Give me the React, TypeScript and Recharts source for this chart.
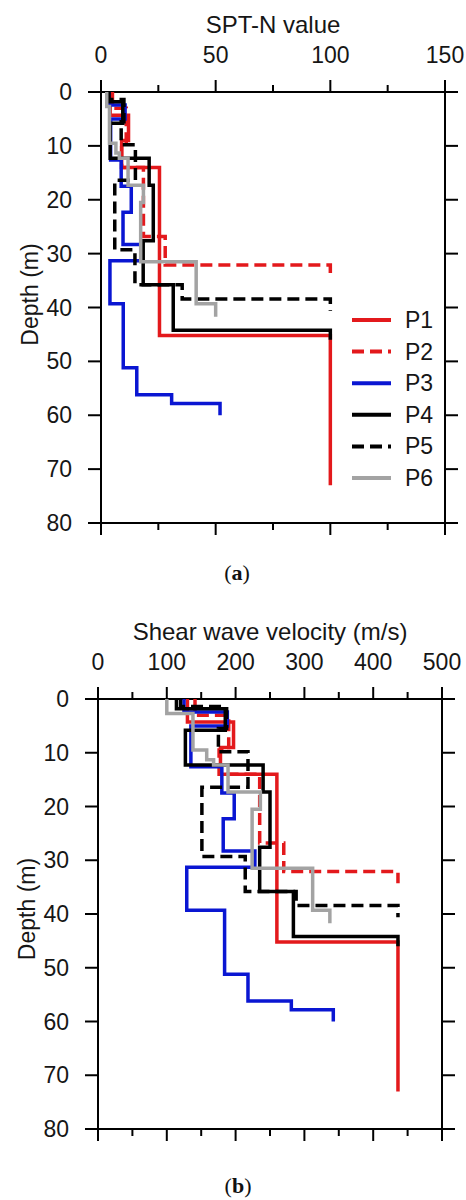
import React from 'react';
import { ScatterChart, Scatter, XAxis, YAxis, Legend } from 'recharts';

// ---- Layer boundaries (depth, m) and layer values ----
const P1_DEPTH = [0, 4.3, 9, 14, 45.2, 73];
const P1_SPT = [4, 12, 9, 25.5, 100];
const P1_VS = [130, 197, 178, 260, 436];

const P2_DEPTH = [0, 3, 9.5, 14, 26.8, 32.1, 34.3];
const P2_SPT = [5, 11, 9, 18.5, 28, 100];
const P2_VS = [141, 190, 176, 235, 270, 436];

const P3_DEPTH = [0, 2.4, 5, 12.6, 17.5, 22.3, 28.3, 31.3, 39.3, 51.2, 56.2, 57.8, 60];
const P3_SPT = [3.5, 10.5, 4.2, 8.8, 13.2, 9.6, 18, 3.9, 9.7, 15.6, 30.8, 51.9];
const P3_VS = [125, 188, 135, 180, 198, 182, 228, 129, 184, 218, 281, 342];

const P4_DEPTH = [0, 1.8, 5.8, 12.3, 17.3, 27.6, 35.8, 44.2, 46];
const P4_SPT = [3, 9.5, 4, 21, 22.8, 18.4, 31.5, 100];
const P4_VS = [114, 185, 127, 240, 250, 235, 284, 436];

const P5_DEPTH = [0, 1.4, 5.5, 9.8, 16.4, 29.3, 35.8, 38.4, 40.6];
const P5_SPT = [3.5, 10, 8.8, 15, 6, 14.8, 35.4, 100];
const P5_VS = [120, 187, 175, 218, 151, 214, 288, 436];

const P6_DEPTH = [0, 2.7, 9.5, 11.3, 12.3, 17.3, 20.5, 31.5, 39.3, 41.7];
const P6_SPT = [2.5, 3.7, 6.5, 8, 11.8, 18.5, 17.3, 41.5, 50];
const P6_VS = [100, 138, 158, 168, 189, 236, 224, 312, 337];

// ---- Axis ticks / labels ----
const SPT_TICKS = [0, 25, 50, 75, 100, 125, 150];
const SPT_MAJOR = [0, 50, 100, 150];
const VS_TICKS = [0, 50, 100, 150, 200, 250, 300, 350, 400, 450, 500];
const VS_MAJOR = [0, 100, 200, 300, 400, 500];
const DEPTH_TICKS = [0, 10, 20, 30, 40, 50, 60, 70, 80];

const SERIES_NAMES = ['P1', 'P2', 'P3', 'P4', 'P5', 'P6'];

const RED = '#e3191c';
const BLUE = '#0a16d2';
const BLACK = '#000000';
const GRAY = '#a3a3a3';
const FONT = '"Liberation Sans", Arial, Helvetica, sans-serif';
const TXT = '#161616';

const steps = (depths: number[], vals: number[]) =>
  vals.flatMap((v, i) => [
    { v, d: depths[i] },
    { v, d: depths[i + 1] },
  ]);

const STYLES = [
  { color: RED, dash: undefined as string | undefined },
  { color: RED, dash: '12 6' },
  { color: BLUE, dash: undefined },
  { color: BLACK, dash: undefined },
  { color: BLACK, dash: '12 6' },
  { color: GRAY, dash: undefined },
];

const SPT_SERIES = [
  steps(P1_DEPTH, P1_SPT),
  steps(P2_DEPTH, P2_SPT),
  steps(P3_DEPTH, P3_SPT),
  steps(P4_DEPTH, P4_SPT),
  steps(P5_DEPTH, P5_SPT),
  steps(P6_DEPTH, P6_SPT),
];
const VS_SERIES = [
  steps(P1_DEPTH, P1_VS),
  steps(P2_DEPTH, P2_VS),
  steps(P3_DEPTH, P3_VS),
  steps(P4_DEPTH, P4_VS),
  steps(P5_DEPTH, P5_VS),
  steps(P6_DEPTH, P6_VS),
];

const EmptyShape = () => <g />;

const makeXTick = (side: 'top' | 'bottom', majors: number[]) => (props: any) => {
  const { x, y, payload } = props;
  const val = payload.value;
  const isMajor = majors.includes(val);
  const len = isMajor ? 12 : 7;
  const dir = side === 'top' ? -1 : 1;
  return (
    <g>
      <line x1={x} y1={y} x2={x} y2={y + dir * len} stroke="#000" strokeWidth={2} />
      {side === 'top' && isMajor ? (
        <text x={x} y={y - 29} textAnchor="middle" fontSize={23} fill={TXT} fontFamily={FONT}>
          {val}
        </text>
      ) : null}
    </g>
  );
};

const makeYTick = (side: 'left' | 'right') => (props: any) => {
  const { x, y, payload } = props;
  const dir = side === 'left' ? -1 : 1;
  return (
    <g>
      <line x1={x} y1={y} x2={x + dir * 13} y2={y} stroke="#000" strokeWidth={2} />
      {side === 'left' ? (
        <text x={x - 29} y={y + 8} textAnchor="end" fontSize={23} fill={TXT} fontFamily={FONT}>
          {payload.value}
        </text>
      ) : null}
    </g>
  );
};

const LegendBox = () => (
  <svg width={110} height={200} style={{ display: 'block' }}>
    {SERIES_NAMES.map((name, i) => {
      const cy = 20 + i * 31.6;
      return (
        <g key={name}>
          <line x1={7} x2={46} y1={cy} y2={cy} stroke={STYLES[i].color} strokeWidth={4} strokeDasharray={STYLES[i].dash} />
          <text x={60} y={cy + 8} fontSize={23} fill={TXT} fontFamily={FONT}>
            {name}
          </text>
        </g>
      );
    })}
  </svg>
);

type PanelProps = {
  top: number;
  title: string;
  xMax: number;
  ticks: number[];
  majors: number[];
  data: { v: number; d: number }[][];
  margin: { top: number; left: number; right: number; bottom: number };
  depthDy: number;
  legend: boolean;
};

function Panel({ top, title, xMax, ticks, majors, data, margin, depthDy, legend }: PanelProps) {
  const axisLine = { stroke: '#000', strokeWidth: 2 };
  return (
    <div style={{ position: 'absolute', left: 0, top, width: 466, height: 560, fontFamily: FONT }}>
      <ScatterChart width={466} height={560} margin={margin}>
        <XAxis
          xAxisId="top"
          orientation="top"
          type="number"
          dataKey="v"
          domain={[0, xMax]}
          ticks={ticks}
          interval={0}
          allowDataOverflow
          height={1}
          tickSize={0}
          tickMargin={0}
          tickLine={false}
          tick={makeXTick('top', majors)}
          axisLine={axisLine}
          label={{ value: title, position: 'top', offset: 58, fontSize: 24, fill: TXT }}
        />
        <XAxis
          xAxisId="bottom"
          orientation="bottom"
          type="number"
          dataKey="v"
          domain={[0, xMax]}
          ticks={ticks}
          interval={0}
          allowDataOverflow
          height={1}
          tickSize={0}
          tickMargin={0}
          tickLine={false}
          tick={makeXTick('bottom', majors)}
          axisLine={axisLine}
        />
        <YAxis
          yAxisId="left"
          orientation="left"
          type="number"
          dataKey="d"
          domain={[0, 80]}
          reversed
          ticks={DEPTH_TICKS}
          interval={0}
          allowDataOverflow
          width={1}
          tickSize={0}
          tickMargin={0}
          tickLine={false}
          tick={makeYTick('left')}
          axisLine={axisLine}
          label={{ value: 'Depth (m)', angle: -90, position: 'center', dx: -71, dy: depthDy, fontSize: 23, fill: TXT }}
        />
        <YAxis
          yAxisId="right"
          orientation="right"
          type="number"
          dataKey="d"
          domain={[0, 80]}
          reversed
          ticks={DEPTH_TICKS}
          interval={0}
          allowDataOverflow
          width={1}
          tickSize={0}
          tickMargin={0}
          tickLine={false}
          tick={makeYTick('right')}
          axisLine={axisLine}
        />
        {data.map((pts, i) => (
          <Scatter
            key={SERIES_NAMES[i]}
            name={SERIES_NAMES[i]}
            data={pts}
            xAxisId="top"
            yAxisId="left"
            fill={STYLES[i].color}
            line={{ stroke: STYLES[i].color, strokeWidth: 3.5, strokeDasharray: STYLES[i].dash }}
            lineType="joint"
            shape={EmptyShape}
            legendType="none"
            isAnimationActive={false}
          />
        ))}
        {legend ? (
          <Legend
            layout="vertical"
            align="center"
            verticalAlign="middle"
            content={() => <LegendBox />}
            wrapperStyle={{ left: 345, top: 300, width: 110, height: 200 }}
          />
        ) : null}
      </ScatterChart>
    </div>
  );
}

export default function App() {
  return (
    <div style={{ position: 'absolute', left: 0, top: 0, width: 466, height: 1200, background: '#fff' }}>
      <Panel
        top={0}
        title="SPT-N value"
        xMax={150}
        ticks={SPT_TICKS}
        majors={SPT_MAJOR}
        data={SPT_SERIES}
        margin={{ top: 91, left: 100, right: 20, bottom: 36 }}
        depthDy={-13}
        legend
      />
      <Panel
        top={600}
        title="Shear wave velocity (m/s)"
        xMax={500}
        ticks={VS_TICKS}
        majors={VS_MAJOR}
        data={VS_SERIES}
        margin={{ top: 98, left: 97, right: 23, bottom: 30 }}
        depthDy={-5}
        legend={false}
      />
      <svg width={466} height={30} style={{ position: 'absolute', left: 0, top: 560 }}>
        <text x={237} y={20} textAnchor="middle" fontSize={22} fill="#111" fontFamily='"Liberation Serif", "DejaVu Serif", serif'>
          (<tspan fontWeight="bold">a</tspan>)
        </text>
      </svg>
      <svg width={466} height={30} style={{ position: 'absolute', left: 0, top: 1170 }}>
        <text x={238} y={23} textAnchor="middle" fontSize={22} fill="#111" fontFamily='"Liberation Serif", "DejaVu Serif", serif'>
          (<tspan fontWeight="bold">b</tspan>)
        </text>
      </svg>
    </div>
  );
}
